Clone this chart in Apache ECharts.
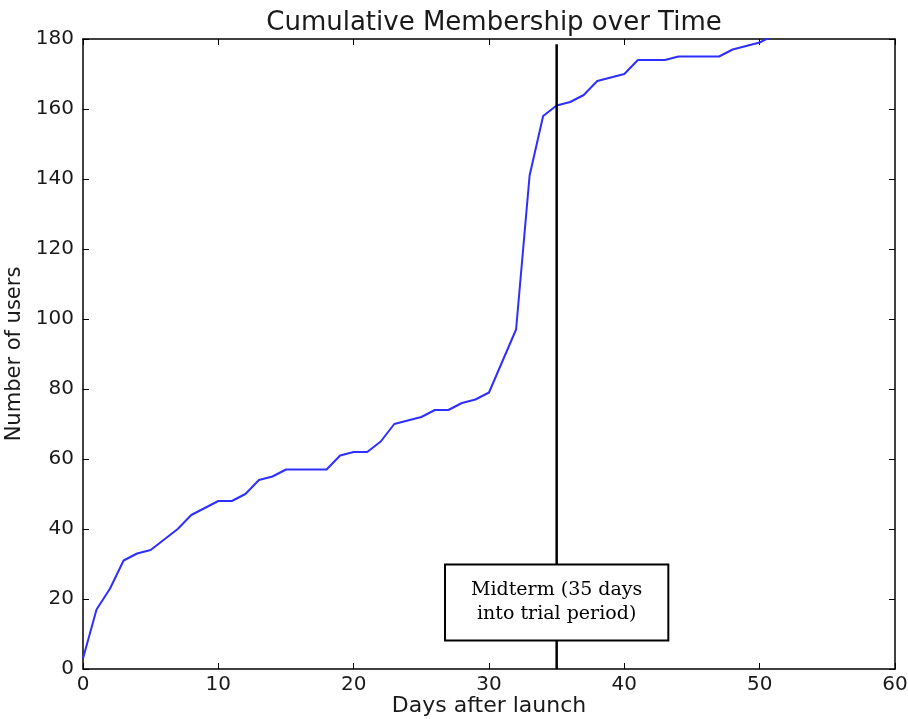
<!DOCTYPE html>
<html>
<head>
<meta charset="utf-8">
<script src="https://cdn.jsdelivr.net/npm/echarts@6/dist/echarts.min.js"></script>
<style>
html, body { margin: 0; padding: 0; background: #fff; }
#chart { width: 908px; height: 719px; }
</style>
</head>
<body>
<div id="chart"></div>
<script>
// Days since launch and the running total of members on each day
const days = [0,1,2,3,4,5,6,7,8,9,10,11,12,13,14,15,16,17,18,19,20,21,22,23,24,25,26,27,28,29,30,31,32,33,34,35,36,37,38,39,40,41,42,43,44,45,46,47,48,49,50,51];
const members = [3,17,23,31,33,34,37,40,44,46,48,48,50,54,55,57,57,57,57,61,62,62,65,70,71,72,74,74,76,77,79,88,97,141,158,161,162,164,168,169,170,174,174,174,175,175,175,175,177,178,179,181];

const xTicks = [0,10,20,30,40,50,60];
const yTicks = [0,20,40,60,80,100,120,140,160,180];

const midtermDay = 35;
const midtermTop = 178.5;
const midtermLabel = 'Midterm (35 days\ninto trial period)';
const midtermLabelAt = 19;

const font = 'DejaVu Sans';
const ink = '#1a1a1a';
const chart = echarts.init(document.getElementById('chart'));

const frameAxis = {
  axisLine: { show: true, onZero: false, lineStyle: { color: '#000', width: 1.5 } },
  axisTick: { show: true, inside: true, length: 6, lineStyle: { color: '#000', width: 1 } },
  splitLine: { show: false }
};

chart.setOption({
  animation: false,
  backgroundColor: '#fff',
  title: {
    text: 'Cumulative Membership over Time',
    left: 489, top: 5, textAlign: 'center',
    textStyle: { fontFamily: font, fontSize: 26, fontWeight: 'normal', color: ink }
  },
  grid: { left: 83, right: 13, top: 39, bottom: 50, containLabel: false, outerBoundsMode: 'none' },
  xAxis: [
    Object.assign({
      type: 'value', min: xTicks[0], max: xTicks[xTicks.length - 1], interval: 10,
      position: 'bottom',
      name: 'Days after launch', nameLocation: 'middle', nameGap: 26, nameMoveOverlap: false,
      nameTextStyle: { fontFamily: font, fontSize: 22, color: ink },
      axisLabel: { fontFamily: font, fontSize: 20, color: ink, margin: 6 }
    }, frameAxis),
    Object.assign({
      type: 'value', min: xTicks[0], max: xTicks[xTicks.length - 1], interval: 10,
      position: 'top', axisLabel: { show: false }
    }, frameAxis)
  ],
  yAxis: [
    Object.assign({
      type: 'value', min: yTicks[0], max: yTicks[yTicks.length - 1], interval: 20,
      position: 'left',
      name: 'Number of users', nameLocation: 'middle', nameGap: 52, nameRotate: 90,
      nameTextStyle: { fontFamily: font, fontSize: 21, color: ink },
      axisLabel: { fontFamily: font, fontSize: 20, color: ink, margin: 9 }
    }, frameAxis),
    Object.assign({
      type: 'value', min: yTicks[0], max: yTicks[yTicks.length - 1], interval: 20,
      position: 'right', axisLabel: { show: false }
    }, frameAxis)
  ],
  series: [
    {
      type: 'line',
      data: days.map((d, i) => [d, members[i]]),
      showSymbol: false,
      clip: true,
      lineStyle: { color: '#2e2eff', width: 2 },
      z: 3
    },
    {
      // midterm marker: vertical rule plus boxed note
      type: 'line',
      data: [[midtermDay, 0], [midtermDay, midtermTop]],
      showSymbol: false,
      lineStyle: { color: '#000', width: 2.5 },
      z: 4,
      markPoint: {
        symbol: 'rect', symbolSize: 0,
        data: [{ coord: [midtermDay, midtermLabelAt] }],
        label: {
          show: true,
          formatter: midtermLabel,
          position: 'inside',
          fontFamily: 'DejaVu Serif', fontSize: 19, lineHeight: 24, color: '#000',
          backgroundColor: '#fff', borderColor: '#000', borderWidth: 2,
          padding: [14, 25, 12, 25], align: 'center', verticalAlign: 'middle'
        }
      }
    }
  ]
});
</script>
</body>
</html>
